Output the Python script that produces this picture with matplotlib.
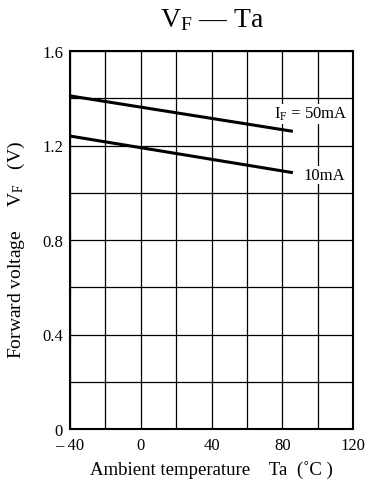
import numpy as np
import matplotlib.pyplot as plt

plt.rcParams['font.family'] = ['Liberation Serif', 'DejaVu Serif']
plt.rcParams['mathtext.fontset'] = 'custom'
plt.rcParams['mathtext.rm'] = 'Liberation Serif'
plt.rcParams['mathtext.it'] = 'Liberation Serif:italic'

# data
ta = [-40, 86]
vf_50mA = [1.41, 1.26]
vf_10mA = [1.24, 1.085]

xticks = [-40, 0, 40, 80, 120]
xticklabels = ['\u2013 40', '0', '40', '80', '120']
yticks = [0, 0.4, 0.8, 1.2, 1.6]
yticklabels = ['0', '0.4', '0.8', '1.2', '1.6']

fig = plt.figure(figsize=(3.65, 4.85), dpi=100)
ax = fig.add_axes([70/365, 1-430/485, 283/365, 378/485])

ax.set_xlim(-40, 120)
ax.set_ylim(0, 1.6)
ax.set_xticks(np.arange(-40, 121, 20), minor=True)
ax.set_yticks(np.arange(0, 1.61, 0.2), minor=True)
ax.set_xticks(xticks)
ax.set_yticks(yticks)
ax.set_xticklabels(xticklabels)
ax.set_yticklabels(yticklabels)
ax.grid(True, which='both', color='black', lw=0.9)
ax.tick_params(which='both', length=0, labelsize=12)
ax.tick_params(axis='x', pad=6)
ax.tick_params(axis='y', pad=5)
for s in ax.spines.values():
    s.set_linewidth(1.5)

ax.plot(ta, vf_50mA, color='black', lw=2.2, solid_capstyle='butt')
ax.plot(ta, vf_10mA, color='black', lw=2.2, solid_capstyle='butt')

ax.text(117, 1.335, r'I$_\mathrm{F}$ = 50mA', ha='right', va='center', fontsize=12,
        bbox=dict(facecolor='white', edgecolor='none', pad=1))
ax.text(115.5, 1.075, '10mA', ha='right', va='center', fontsize=12,
        bbox=dict(facecolor='white', edgecolor='none', pad=1))

ax.set_xlabel('Ambient temperature    Ta  (\u02daC )', fontsize=13.5, labelpad=5)
ax.set_ylabel('Forward voltage     V$_\\mathrm{F}$   (V)', fontsize=14)
ax.yaxis.set_label_coords(-0.152, 0.476)
fig.text(212/365, 1-20/485, 'V$_\\mathrm{F}$ \u2014 Ta', ha='center', va='center', fontsize=20)

fig.savefig('out.png', dpi=100)
